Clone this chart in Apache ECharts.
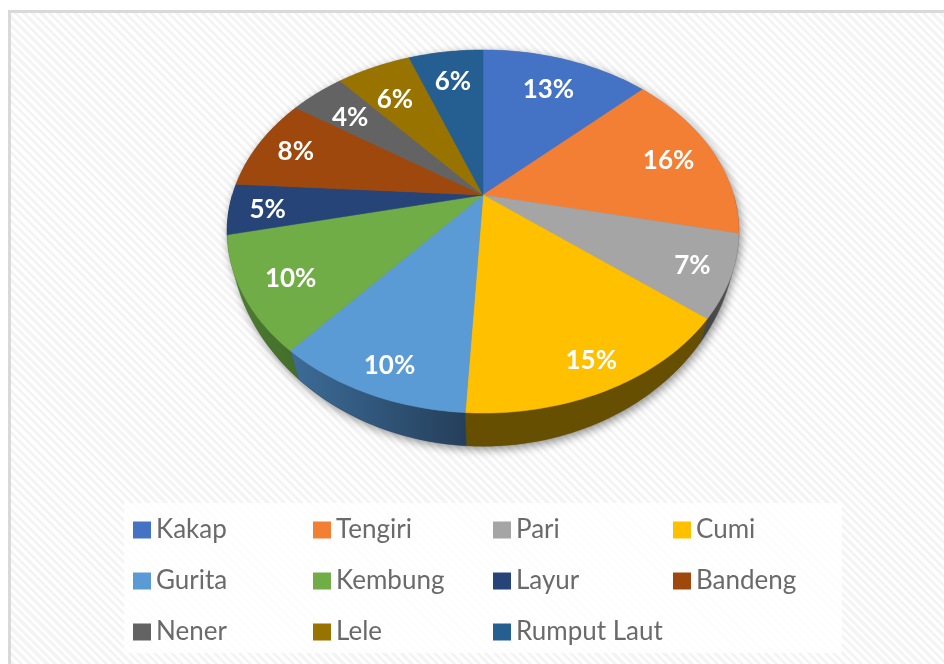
<!DOCTYPE html>
<html>
<head>
<meta charset="utf-8">
<script src="https://cdn.jsdelivr.net/npm/echarts@6/dist/echarts.min.js"></script>
<style>
  html, body { margin: 0; padding: 0; background: #fff; }
  #frame {
    position: absolute; left: 8px; top: 10px; right: 0; bottom: 0;
    border-left: 3px solid #d9d9d9; border-top: 3px solid #d9d9d9;
    background: repeating-linear-gradient(45deg, #f4f4f4 0, #f4f4f4 3px, #fff 3px, #fff 6px);
  }
  #main { position: absolute; left: 0; top: 0; width: 944px; height: 664px; }
</style>
</head>
<body>
<div id="frame"></div>
<div id="main"></div>
<script>
var categories = ['Kakap', 'Tengiri', 'Pari', 'Cumi', 'Gurita', 'Kembung', 'Layur', 'Bandeng', 'Nener', 'Lele', 'Rumput Laut'];
// the labels show these rounded
var percents = [12.9, 15.5, 7.3, 15.2, 10.4, 10.2, 4.5, 8.4, 4.2, 5.7, 5.7];

var colors = ['#4472C4', '#F27F33', '#A5A5A5', '#FFC000', '#5B9BD5', '#70AD47', '#264478', '#9E480E', '#636363', '#997300', '#255E91'];
var wallColors = [
  ['#2a4576', '#2a4576'], ['#8f4c1e', '#8f4c1e'], ['#3f3f3f', '#5a5a5a'], ['#664f00', '#664f00'],
  ['#3c6c98', '#253f5a'], ['#4f7f32', '#426d2a'], ['#16294a', '#16294a'], ['#5f2b08', '#5f2b08'],
  ['#3b3b3b', '#3b3b3b'], ['#5c4500', '#5c4500'], ['#163857', '#163857']
];
// label nudges in px from the default anchor of each slice
var labelNudge = [[-2, 4], [5, 1], [20, 8], [15, 21], [-8, 23], [-10, 8], [-18, 4], [-11, -2], [0, 4], [0, 7], [0, 2]];

// the tilted disc, pinned on the apex of the slices
var cx = 483, cy = 195;

function topPoint(deg, r) {
  var t = deg * Math.PI / 180;
  var u = Math.sin(t) * r, c = -Math.cos(t) * r;
  var d = 1 - 0.201 * c;
  return [cx + 250.6 * u / d, cy + 174.2 * c / d];
}
function bottomPoint(deg) {
  var t = deg * Math.PI / 180;
  var u = Math.sin(t), c = -Math.cos(t);
  var d = 1 - 0.153 * c;
  return [cx + 250.6 * u / d, cy + 4.5 + 209 * c / d];
}

function renderSlice(params, api) {
  var i = params.seriesIndex;
  var from = api.value(1) * 3.6;
  var to = (api.value(1) + api.value(0)) * 3.6;
  var children = [];

  // side wall, only the front half of the disc shows it
  var a = Math.max(from, 90), b = Math.min(to, 270);
  if (b > a) {
    var rim = [], low = [];
    for (var d = a; d < b; d += 1) {
      rim.push(topPoint(d, 1));
      low.unshift(bottomPoint(d));
    }
    rim.push(topPoint(b, 1));
    low.unshift(bottomPoint(b));
    children.push({
      type: 'polygon',
      z2: 1,
      shape: { points: rim.concat(low) },
      style: {
        fill: {
          type: 'linear', x: 0, y: 0, x2: 1, y2: 0,
          colorStops: [{ offset: 0, color: wallColors[i][0] }, { offset: 1, color: wallColors[i][1] }]
        },
        stroke: wallColors[i][1],
        lineWidth: 0.4
      }
    });
  }

  // top face
  var pts = [[cx, cy]];
  for (var d2 = from; d2 < to; d2 += 1) pts.push(topPoint(d2, 1));
  pts.push(topPoint(to, 1));
  children.push({
    type: 'polygon',
    z2: 2,
    shape: { points: pts },
    style: { fill: colors[i], stroke: colors[i], lineWidth: 0.5 }
  });

  var anchor = topPoint((from + to) / 2, 0.78);
  children.push({
    type: 'text',
    z2: 3,
    x: anchor[0] + labelNudge[i][0],
    y: anchor[1] + labelNudge[i][1],
    style: {
      text: Math.round(api.value(0)) + '%',
      fill: '#fff',
      font: 'bold 26px Lato',
      align: 'center',
      verticalAlign: 'middle'
    }
  });
  return { type: 'group', children: children };
}

var seriesList = [];
var running = 0;
categories.forEach(function (name, i) {
  seriesList.push({
    type: 'custom',
    name: name,
    coordinateSystem: 'none',
    itemStyle: { color: colors[i] },
    renderItem: renderSlice,
    data: [[percents[i], running]],
    silent: true
  });
  running += percents[i];
});

function legendRow(names, top) {
  return {
    left: 133,
    top: top,
    padding: 0,
    itemGap: 0,
    itemWidth: 18,
    itemHeight: 17,
    icon: 'rect',
    selectedMode: false,
    data: names,
    formatter: '{a|{name}}',
    textStyle: {
      rich: { a: { width: 157, fontFamily: 'Lato', fontSize: 26, color: '#6a6a6a', lineHeight: 30 } }
    }
  };
}

// soft shadow under the whole disc
var outline = [];
for (var deg = 0; deg < 360; deg += 2) {
  outline.push(deg > 117 && deg < 243 ? bottomPoint(deg) : topPoint(deg, 1));
}

var myChart = echarts.init(document.getElementById('main'), null, { renderer: 'canvas' });
var option = {
  animation: false,
  backgroundColor: 'transparent',
  graphic: [
    {
      type: 'rect', z: 0, silent: true,
      shape: { x: 124, y: 503, width: 718, height: 150 },
      style: { fill: 'rgba(255,255,255,0.8)' }
    },
    {
      type: 'polygon', z: 0, silent: true,
      shape: { points: outline },
      style: { fill: '#777', shadowBlur: 10, shadowOffsetX: 2, shadowOffsetY: 3, shadowColor: 'rgba(0,0,0,0.45)' }
    }
  ],
  legend: [
    legendRow(categories.slice(0, 4), 517),
    legendRow(categories.slice(4, 8), 568),
    legendRow(categories.slice(8), 619)
  ],
  series: seriesList
};
myChart.setOption(option);
</script>
</body>
</html>
